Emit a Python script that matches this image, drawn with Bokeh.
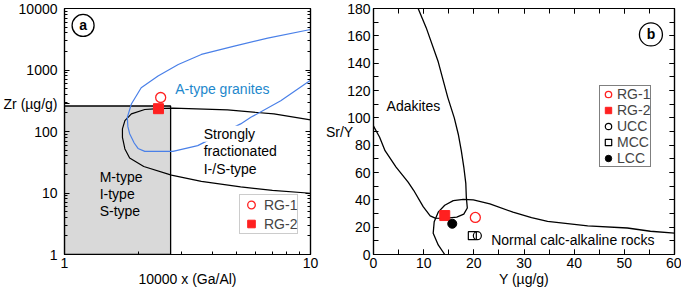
from bokeh.plotting import figure
from bokeh.layouts import row
from bokeh.models import (Range1d, FixedTicker, LogAxis, LinearAxis, SingleIntervalTicker,
                          NumeralTickFormatter, Label, Legend, LegendItem)
from bokeh.embed import file_html
from bokeh.resources import INLINE

FONT = "Liberation Sans"
RED = "#ff2020"
BLUE_LINE = "#4a80e8"
BLUE_TEXT = "#1e88cc"

# ---------------- panel a data: Zr vs 10000*Ga/Al ----------------
a_box_x = [1.0, 2.7]
a_box_zr = [1.0, 260.0]
a_atype_x = [10.0, 6.7, 4.9, 3.6, 2.9, 2.4, 2.05, 1.87, 1.80, 1.81, 1.84, 1.92, 1.99, 2.12, 2.76, 3.48, 5.2, 5.72, 7.57, 10.0]
a_atype_zr = [4550, 3300, 2450, 1790, 1230, 800, 515, 280, 170, 120, 92, 65, 53, 47.5, 47.5, 59, 133, 170, 316, 680]
a_frac_x = [10.0, 7.1, 4.6, 2.76, 2.4, 2.12, 1.87, 1.76, 1.72, 1.72, 1.76, 1.84, 2.1, 2.72, 3.6, 5.2, 7.0, 10.0]
a_frac_zr = [155, 193, 224, 240, 236, 228, 193, 150, 110, 80, 52, 37, 27, 19.5, 15.5, 12.6, 11.0, 9.9]
a_rg1_x, a_rg1_zr = [2.46], [357]
a_rg2_x, a_rg2_zr = [2.41], [235]
a_xticks = [1, 10]
a_xminor = [2, 3, 4, 5, 6, 7, 8, 9]
a_yticks = [1, 10, 100, 1000, 10000]
a_yminor = [2, 3, 4, 5, 6, 7, 8, 9, 20, 30, 40, 50, 60, 70, 80, 90,
            200, 300, 400, 500, 600, 700, 800, 900, 2000, 3000, 4000, 5000, 6000, 7000, 8000, 9000]
a_ylabel = "Zr (µg/g)"
a_ylabel_at = 282
a_tag_x, a_tag_zr = [1.19], [5300]

# ---------------- panel b data: Sr/Y vs Y ----------------
b_adak_y = [0, 1.2, 2.3, 4.5, 6.9, 8.0, 9.9, 11.3, 12.3, 14.2, 16.6, 18.0, 18.7, 18.5, 18.4, 18.0, 17.5, 16.9, 16.1, 14.8, 12.9, 10.5, 8.9]
b_adak_sry = [94, 86, 76, 64, 53, 47, 35, 28.3, 26.6, 26.4, 27.4, 29.5, 34, 42, 52, 64, 76, 88, 100, 115, 141, 166, 180]
b_calc_y = [14.2, 12.9, 11.9, 12.1, 12.9, 14.2, 15.9, 17.9, 19.9, 23.2, 27.8, 31.5, 34.7, 42.7, 50.6, 55.2, 60]
b_calc_sry = [0, 7, 15.5, 24, 31, 36, 39.4, 40.4, 40, 37, 31, 27, 24.2, 21, 19.4, 17, 15.7]
b_rg1_y, b_rg1_sry = [20.3], [27.1]
b_rg2_y, b_rg2_sry = [14.2], [28.5]
b_ucc_y, b_ucc_sry = [20.7], [13.8]
b_mcc_y, b_mcc_sry = [19.7], [13.8]
b_lcc_y, b_lcc_sry = [15.7], [22.5]
b_tag_y, b_tag_sry = [55.3], [161]


def style_axis(ax, size="14px", tin=5, minin=3):
    ax.major_label_text_font = FONT
    ax.major_label_text_font_size = size
    ax.major_label_text_color = "black"
    ax.axis_label_text_font = FONT
    ax.axis_label_text_font_size = "14px"
    ax.axis_label_text_font_style = "normal"
    ax.axis_label_text_color = "black"
    ax.axis_line_color = "black"
    ax.axis_line_width = 1.2
    ax.major_tick_line_color = "black"
    ax.minor_tick_line_color = "black"
    ax.major_tick_in = tin
    ax.major_tick_out = 0
    ax.minor_tick_in = minin
    ax.minor_tick_out = 0
    ax.major_label_standoff = 3
    ax.axis_label_standoff = 0


def mirror(ax):
    ax.major_label_text_font_size = "1px"
    ax.major_label_text_color = None
    ax.major_label_standoff = 0


def txt(p, x, y, t, color="black", size="14px", **kw):
    lab = Label(x=x, y=y, text=t, text_font=FONT, text_font_size=size, text_color=color,
                text_align=kw.pop("align", "left"), text_baseline=kw.pop("baseline", "middle"), **kw)
    p.add_layout(lab)
    return lab


def make_legend(items, loc, gw, gh, standoff, border):
    return Legend(items=items, location=loc, padding=0, spacing=0, margin=0, glyph_width=gw,
                  glyph_height=gh, label_height=gh, label_standoff=standoff, label_text_font=FONT,
                  label_text_font_size="14px", border_line_color=border, border_line_width=1)


# ================= Panel a =================
pa = figure(x_axis_type="log", y_axis_type="log", x_range=Range1d(1, 10), y_range=Range1d(1, 10000),
            width=322, height=289, min_border_left=63, min_border_right=12, min_border_top=8,
            min_border_bottom=34, output_backend="svg", toolbar_location=None)
pa.grid.visible = False
pa.outline_line_color = "black"
pa.outline_line_width = 1.2

pa.xaxis.ticker = FixedTicker(ticks=a_xticks, minor_ticks=a_xminor)
pa.yaxis.ticker = FixedTicker(ticks=a_yticks + [a_ylabel_at], minor_ticks=a_yminor)
pa.xaxis.formatter = NumeralTickFormatter(format="0")
pa.yaxis.formatter = NumeralTickFormatter(format="0")
pa.yaxis.major_label_overrides = {a_ylabel_at: a_ylabel}
pa.xaxis.axis_label = "10000 x (Ga/Al)"
for ax in pa.xaxis + pa.yaxis:
    style_axis(ax)
pa.yaxis.major_label_standoff = 7
ra = LogAxis(ticker=FixedTicker(ticks=a_yticks, minor_ticks=a_yminor))
style_axis(ra)
mirror(ra)
pa.add_layout(ra, "right")

pa.quad(left=a_box_x[0], right=a_box_x[1], bottom=a_box_zr[0], top=a_box_zr[1],
        fill_color="#d9d9d9", line_color="black", line_width=1.3)
pa.line(a_frac_x, a_frac_zr, line_color="black", line_width=1.2)
pa.line(a_atype_x, a_atype_zr, line_color=BLUE_LINE, line_width=1.2)

txt(pa, 2.82, 500, "A-type granites", color=BLUE_TEXT)
txt(pa, 3.68, 92, "Strongly", background_fill_color="white")
txt(pa, 3.68, 48, "fractionated")
txt(pa, 3.68, 25, "I-/S-type")
txt(pa, 1.39, 18.3, "M-type")
txt(pa, 1.39, 9.6, "I-type")
txt(pa, 1.39, 5.1, "S-type")

ra1 = pa.scatter(a_rg1_x, a_rg1_zr, marker="circle", size=10, fill_color=None, line_color=RED, line_width=1.3)
ra2 = pa.scatter(a_rg2_x, a_rg2_zr, marker="square", size=10, fill_color=RED, line_color=RED)

leg_a = make_legend([LegendItem(label="RG-1", renderers=[ra1]), LegendItem(label="RG-2", renderers=[ra2])],
                    (175, 20), 22, 19, 2, "#999999")
pa.add_layout(leg_a)

pa.scatter(a_tag_x, a_tag_zr, marker="circle", size=22, fill_color=None, line_color="black", line_width=1.3)
txt(pa, a_tag_x[0], a_tag_zr[0], "a", align="center", text_font_style="bold")

# ================= Panel b =================
pb = figure(x_range=Range1d(0, 60), y_range=Range1d(0, 180),
            width=359, height=289, min_border_left=50, min_border_right=7, min_border_top=8,
            min_border_bottom=34, output_backend="svg", toolbar_location=None)
pb.grid.visible = False
pb.outline_line_color = "black"
pb.outline_line_width = 1.2
pb.xaxis.ticker = SingleIntervalTicker(interval=10, num_minor_ticks=2)
pb.yaxis.ticker = SingleIntervalTicker(interval=20, num_minor_ticks=2)
pb.xaxis.axis_label = "Y (µg/g)"
for ax in pb.xaxis + pb.yaxis:
    style_axis(ax, size="14px", tin=5, minin=5)
yb = pb.yaxis[0]
if "axis_label_orientation" in yb.properties():
    yb.axis_label = "Sr/Y"
    yb.axis_label_orientation = "horizontal"
    try:
        yb.axis_label_standoff = -9
    except Exception:
        yb.axis_label_standoff = 0
else:
    txt(pb, 1.0, 88.5, "Sr/Y")
rb = LinearAxis(ticker=SingleIntervalTicker(interval=20, num_minor_ticks=2))
tb = LinearAxis(ticker=SingleIntervalTicker(interval=10, num_minor_ticks=2))
for ax in (rb, tb):
    style_axis(ax, tin=5, minin=5)
    mirror(ax)
pb.add_layout(rb, "right")
pb.add_layout(tb, "above")

pb.line(b_adak_y, b_adak_sry, line_color="black", line_width=1.3)
pb.line(b_calc_y, b_calc_sry, line_color="black", line_width=1.3)

txt(pb, 2.6, 108.6, "Adakites")
txt(pb, 23.45, 10.4, "Normal calc-alkaline rocks")

rb1 = pb.scatter(b_rg1_y, b_rg1_sry, marker="circle", size=10, fill_color=None, line_color=RED, line_width=1.3)
rb2 = pb.scatter(b_rg2_y, b_rg2_sry, marker="square", size=10, fill_color=RED, line_color=RED)
rb3 = pb.scatter(b_ucc_y, b_ucc_sry, marker="circle", size=8, fill_color=None, line_color="black", line_width=1.2)
rb4 = pb.scatter(b_mcc_y, b_mcc_sry, marker="square", size=8, fill_color=None, line_color="black", line_width=1.2)
rb5 = pb.scatter(b_lcc_y, b_lcc_sry, marker="circle", size=9, fill_color="black", line_color="black")

leg_b = make_legend([LegendItem(label="RG-1", renderers=[rb1]), LegendItem(label="RG-2", renderers=[rb2]),
                     LegendItem(label="UCC", renderers=[rb3]), LegendItem(label="MCC", renderers=[rb4]),
                     LegendItem(label="LCC", renderers=[rb5])],
                    (226, 87), 16, 16, 1, "black")
pb.add_layout(leg_b)

pb.scatter(b_tag_y, b_tag_sry, marker="circle", size=23, fill_color=None, line_color="black", line_width=1.3)
txt(pb, b_tag_y[0], b_tag_sry[0], "b", align="center", text_font_style="bold")

layout = row(pa, pb)
open("out.html", "w").write(file_html(layout, INLINE))
